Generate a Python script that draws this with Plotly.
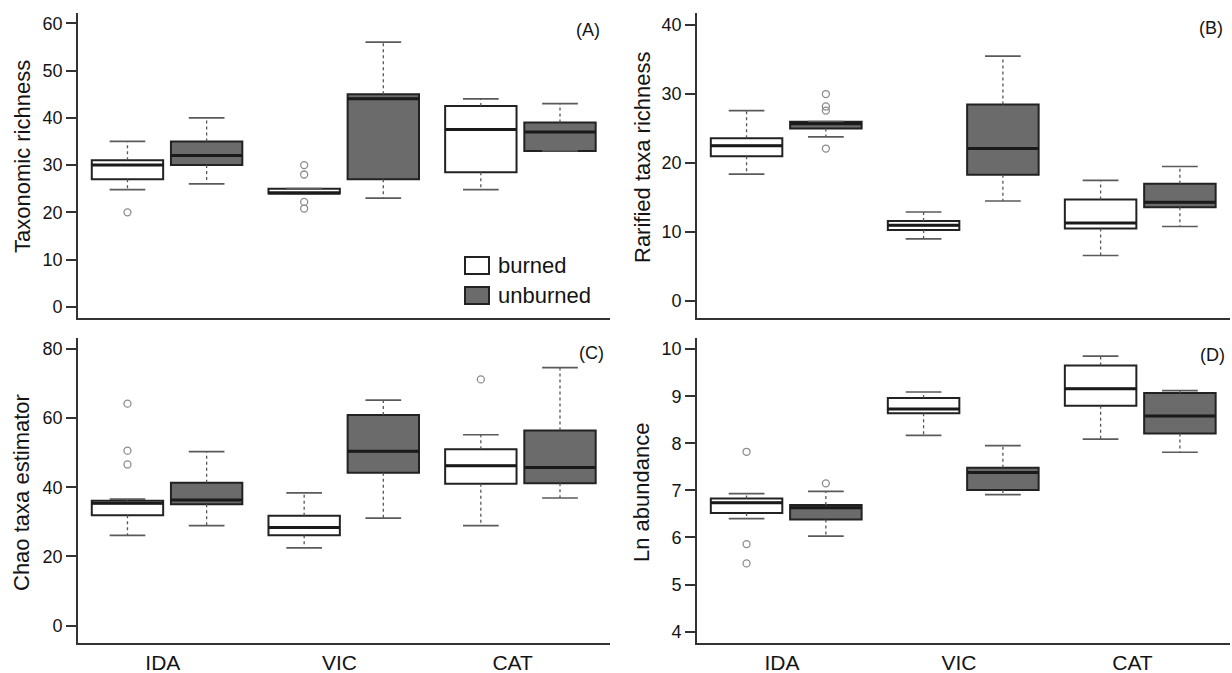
import plotly.graph_objects as go

# ---------------- data ----------------
SITES = ["IDA", "VIC", "CAT"]
GROUPS = ["burned", "unburned"]

# (A) Taxonomic richness
TAX_BURNED = dict(lo=[24.8, 24.0, 24.8], q1=[27.0, 24.0, 28.5], med=[30.0, 24.1, 37.5],
                  q3=[31.0, 25.0, 42.5], hi=[35.0, 25.0, 44.0])
TAX_BURNED_OUT = [[20.0], [30.0, 28.0, 22.2, 20.8], []]
TAX_UNBURNED = dict(lo=[26.0, 23.0, 33.0], q1=[30.0, 27.0, 33.0], med=[32.0, 44.0, 37.0],
                    q3=[35.0, 45.0, 39.0], hi=[40.0, 56.0, 43.0])
TAX_UNBURNED_OUT = [[], [], []]

# (B) Rarified taxa richness
RAR_BURNED = dict(lo=[18.4, 9.0, 6.6], q1=[21.0, 10.3, 10.5], med=[22.5, 11.0, 11.3],
                  q3=[23.6, 11.6, 14.7], hi=[27.6, 12.9, 17.5])
RAR_BURNED_OUT = [[], [], []]
RAR_UNBURNED = dict(lo=[23.8, 14.5, 10.8], q1=[25.0, 18.3, 13.6], med=[25.7, 22.1, 14.3],
                    q3=[26.0, 28.5, 17.0], hi=[26.0, 35.5, 19.5])
RAR_UNBURNED_OUT = [[30.0, 28.2, 27.6, 22.1], [], []]

# (C) Chao taxa estimator
CHAO_BURNED = dict(lo=[26.1, 22.5, 28.9], q1=[31.9, 26.1, 41.0], med=[35.4, 28.4, 46.2],
                   q3=[36.1, 31.8, 51.0], hi=[36.6, 38.4, 55.2])
CHAO_BURNED_OUT = [[64.2, 50.6, 46.6], [], [71.2]]
CHAO_UNBURNED = dict(lo=[28.9, 31.1, 36.9], q1=[35.1, 44.2, 41.2], med=[36.3, 50.4, 45.7],
                     q3=[41.3, 60.9, 56.4], hi=[50.3, 65.2, 74.6])
CHAO_UNBURNED_OUT = [[], [], []]

# (D) Ln abundance
LN_BURNED = dict(lo=[6.40, 8.17, 8.09], q1=[6.52, 8.64, 8.80], med=[6.74, 8.73, 9.16],
                 q3=[6.83, 8.96, 9.65], hi=[6.93, 9.09, 9.85])
LN_BURNED_OUT = [[7.82, 5.86, 5.45], [], []]
LN_UNBURNED = dict(lo=[6.03, 6.91, 7.81], q1=[6.38, 7.01, 8.21], med=[6.63, 7.38, 8.58],
                   q3=[6.69, 7.48, 9.07], hi=[6.98, 7.95, 9.12])
LN_UNBURNED_OUT = [[7.15], [], []]

TAX_TICKS = [0, 10, 20, 30, 40, 50, 60]
RAR_TICKS = [0, 10, 20, 30, 40]
CHAO_TICKS = [0, 20, 40, 60, 80]
LN_TICKS = [4, 5, 6, 7, 8, 9, 10]

# ---------------- styling / layout ----------------
W, H = 1232, 673
FONT = "Liberation Sans, Arial, Helvetica, sans-serif"
TEXT = "#141414"
FILL = {"burned": "#ffffff", "unburned": "#6b6b6b"}
BOX_LINE = "#222222"
OFFSET = 0.448       # unburned box offset from burned
BOX_W = 0.404
CAP_W = BOX_W / 2
LABEL_POS = [0.2, 1.2, 2.18]
XRANGE = [-0.28, 2.731]

XD_L = [78 / W, 610 / W]
XD_R = [697 / W, 1230 / W]
YD_T = [1 - 318 / H, 1 - 13.3 / H]
YD_B = [1 - 642.5 / H, 1 - 338.3 / H]

panels = [
    dict(ax="", xd=XD_L, yd=YD_T, yr=[-2.35, 62.1], ticks=TAX_TICKS, title="Taxonomic richness",
         label="(A)", lab_xy=(602, 30), data=(TAX_BURNED, TAX_UNBURNED),
         out=(TAX_BURNED_OUT, TAX_UNBURNED_OUT), bottom=False, tx=22, ty=157),
    dict(ax="2", xd=XD_R, yd=YD_T, yr=[-2.46, 41.7], ticks=RAR_TICKS, title="Rarified taxa richness",
         label="(B)", lab_xy=(1225, 28), data=(RAR_BURNED, RAR_UNBURNED),
         out=(RAR_BURNED_OUT, RAR_UNBURNED_OUT), bottom=False, tx=642, ty=157),
    dict(ax="3", xd=XD_L, yd=YD_B, yr=[-4.9, 83.1], ticks=CHAO_TICKS, title="Chao taxa estimator",
         label="(C)", lab_xy=(606, 353), data=(CHAO_BURNED, CHAO_UNBURNED),
         out=(CHAO_BURNED_OUT, CHAO_UNBURNED_OUT), bottom=True, tx=22, ty=493),
    dict(ax="4", xd=XD_R, yd=YD_B, yr=[3.77, 10.23], ticks=LN_TICKS, title="Ln abundance",
         label="(D)", lab_xy=(1227, 355), data=(LN_BURNED, LN_UNBURNED),
         out=(LN_BURNED_OUT, LN_UNBURNED_OUT), bottom=True, tx=642, ty=493),
]

fig = go.Figure()
annotations = []
shapes = []

for p in panels:
    xa, ya = "x" + p["ax"], "y" + p["ax"]
    for gi, (stats, outs) in enumerate(zip(p["data"], p["out"])):
        pos = [i + gi * OFFSET for i in range(len(SITES))]
        # whiskers (dotted) and caps (solid)
        wx, wy = [], []
        cx, cy = [], []
        for i, x in enumerate(pos):
            wx += [x, x, None, x, x, None]
            wy += [stats["q3"][i], stats["hi"][i], None, stats["q1"][i], stats["lo"][i], None]
            cx += [x - CAP_W / 2, x + CAP_W / 2, None, x - CAP_W / 2, x + CAP_W / 2, None]
            cy += [stats["hi"][i], stats["hi"][i], None, stats["lo"][i], stats["lo"][i], None]
        fig.add_trace(go.Scatter(x=wx, y=wy, mode="lines", xaxis=xa, yaxis=ya,
                                 line=dict(color="#555555", width=1.3, dash="dot"),
                                 showlegend=False, hoverinfo="skip"))
        fig.add_trace(go.Scatter(x=cx, y=cy, mode="lines", xaxis=xa, yaxis=ya,
                                 line=dict(color="#5a5a5a", width=1.7),
                                 showlegend=False, hoverinfo="skip"))
        # boxes
        fig.add_trace(go.Box(x=pos, q1=stats["q1"], median=stats["med"], q3=stats["q3"],
                             lowerfence=stats["q1"], upperfence=stats["q3"],
                             width=BOX_W, whiskerwidth=0, boxpoints=False,
                             fillcolor=FILL[GROUPS[gi]], line=dict(color=BOX_LINE, width=2),
                             xaxis=xa, yaxis=ya, showlegend=False, hoverinfo="skip",
                             name=GROUPS[gi]))
        # thick medians
        mx, my = [], []
        for i, x in enumerate(pos):
            mx += [x - BOX_W / 2, x + BOX_W / 2, None]
            my += [stats["med"][i], stats["med"][i], None]
        fig.add_trace(go.Scatter(x=mx, y=my, mode="lines", xaxis=xa, yaxis=ya,
                                 line=dict(color="#1a1a1a", width=3),
                                 showlegend=False, hoverinfo="skip"))
        # outliers
        ox, oy = [], []
        for i, vals in enumerate(outs):
            for v in vals:
                ox.append(pos[i])
                oy.append(v)
        if ox:
            fig.add_trace(go.Scatter(x=ox, y=oy, mode="markers", xaxis=xa, yaxis=ya,
                                     marker=dict(symbol="circle-open", size=7, color="#8c8c8c",
                                                 line=dict(width=1.3, color="#8c8c8c")),
                                     showlegend=False, hoverinfo="skip"))

    axis_common = dict(showgrid=False, zeroline=False, showline=True, linecolor="#333333",
                       linewidth=1.8, fixedrange=True)
    fig.layout["xaxis" + p["ax"]] = dict(
        domain=p["xd"], range=XRANGE, anchor=ya, ticks="", tickvals=LABEL_POS,
        ticktext=SITES, showticklabels=p["bottom"],
        tickfont=dict(family=FONT, size=21, color=TEXT), **axis_common)
    fig.layout["yaxis" + p["ax"]] = dict(
        domain=p["yd"], range=p["yr"], anchor=xa, ticks="outside", ticklen=10, tickwidth=1.7,
        tickcolor="#333333", tickvals=p["ticks"],
        tickfont=dict(family=FONT, size=18, color=TEXT), **axis_common)

    annotations.append(dict(text=p["title"], xref="paper", yref="paper",
                            x=p["tx"] / W, y=1 - p["ty"] / H, xanchor="center", yanchor="middle",
                            textangle=-90, showarrow=False,
                            font=dict(family=FONT, size=22, color=TEXT)))
    annotations.append(dict(text=p["label"], xref="paper", yref="paper",
                            x=p["lab_xy"][0] / W, y=1 - p["lab_xy"][1] / H,
                            xanchor="right", yanchor="middle", showarrow=False,
                            font=dict(family=FONT, size=18, color=TEXT)))

# legend (panel A)
LEG = [("burned", 257, 274), ("unburned", 287, 304)]
for name, y0, y1 in LEG:
    shapes.append(dict(type="rect", xref="paper", yref="paper",
                       x0=465 / W, x1=489 / W, y0=1 - y1 / H, y1=1 - y0 / H,
                       line=dict(color=BOX_LINE, width=2), fillcolor=FILL[name]))
    annotations.append(dict(text=name, xref="paper", yref="paper",
                            x=496 / W, y=1 - (y0 + y1) / 2 / H, xanchor="left", yanchor="middle",
                            showarrow=False, font=dict(family=FONT, size=22, color=TEXT)))

fig.update_layout(width=W, height=H, margin=dict(l=0, r=0, t=0, b=0),
                  paper_bgcolor="white", plot_bgcolor="white", boxmode="overlay",
                  annotations=annotations, shapes=shapes, showlegend=False,
                  font=dict(family=FONT))

fig.write_html("out.html")
